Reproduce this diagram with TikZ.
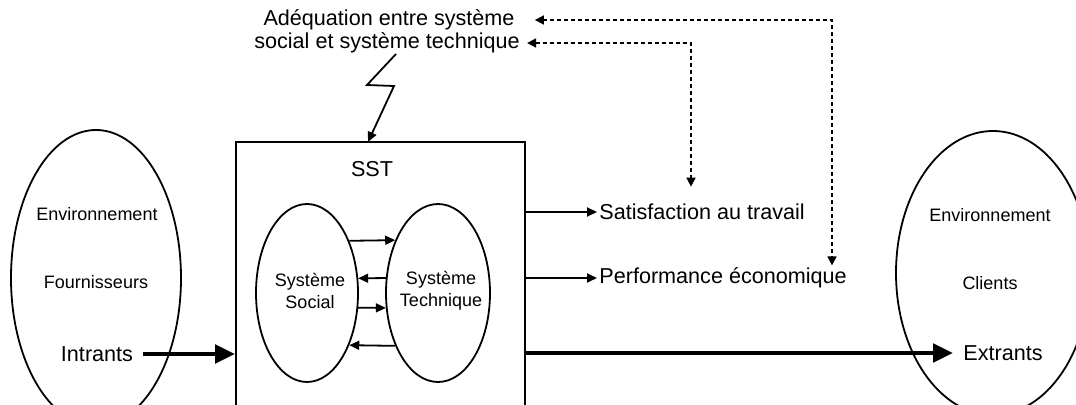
\documentclass[tikz,border=0pt]{standalone}
\usepackage{fontspec}
\setmainfont{Liberation Sans}
\usetikzlibrary{arrows.meta,shapes.geometric}

\begin{document}
\begin{tikzpicture}[
    x=0.5pt, y=-0.5pt,
    % === STYLES ===
    label text/.style={font=\fontsize{10.8}{13}\selectfont, inner sep=1pt},
    small text/.style={font=\fontsize{9}{11}\selectfont, inner sep=1pt},
    env ellipse/.style={draw, ellipse, line width=0.9pt, inner sep=0pt},
    sub ellipse/.style={draw, ellipse, line width=0.9pt, inner sep=0pt, minimum width=51pt, minimum height=89pt},
    thin arrow/.style={line width=0.9pt, -{Triangle[length=5pt,width=4.5pt]}},
    thick arrow/.style={line width=2.4pt, -{Triangle[length=10pt,width=9pt]}},
    link arrow/.style={line width=0.8pt, dash pattern=on 2pt off 1.5pt,
        {Triangle[length=4.5pt,width=4.5pt]}-{Triangle[length=4.5pt,width=4.5pt]}},
]
    % === CADRE ===
    \useasboundingbox (0,0) rectangle (1076,405);
    \clip (0,0) rectangle (1076,405);

    % === ENVIRONNEMENTS ===
    \node[env ellipse, minimum width=85pt, minimum height=148pt] (fourn) at (96,278) {};
    \node[env ellipse, minimum width=97pt, minimum height=142pt] (clien) at (993,273) {};

    \node[small text] (envA) at (97,214) {Environnement};
    \node[small text] (fournlab) at (96,282) {Fournisseurs};
    \node[label text] (intr) at (97,354) {Intrants};

    \node[small text] (envB) at (990,215) {Environnement};
    \node[small text] (clilab) at (990,283) {Clients};
    \node[label text, anchor=west] (extr) at (961,353) {Extrants};

    % === SYSTEME SOCIOTECHNIQUE ===
    \node[draw, line width=0.9pt, minimum width=144.5pt, minimum height=150pt, inner sep=0pt] (sst) at (380.5,292) {};
    \node[label text] (ssttitle) at (372,169) {SST};

    \node[sub ellipse] (soc) at (307,293) {};
    \node[sub ellipse, minimum width=52pt] (tec) at (438,293) {};
    \node[small text, align=center] (soclab) at (310,291) {Système\\Social};
    \node[small text, align=center] (teclab) at (441,291) {Système\\Technique};

    % === ECHANGES ===
    \draw[thin arrow] (soc.51) -- (tec.129);
    \draw[thin arrow] (tec.164) -- (soc.16);
    \draw[thin arrow] (soc.-16) -- (tec.196);
    \draw[thin arrow] (tec.231) -- (soc.-51);

    % === RESULTATS ===
    \node[label text, anchor=west] (sat) at (597,212) {Satisfaction au travail};
    \node[label text, anchor=west] (perf) at (597,278) {Performance économique};

    \draw[thin arrow] (sst.east |- sat.west) -- (sat.west);
    \draw[thin arrow] (sst.east |- perf.west) -- (perf.west);
    \draw[thick arrow] (sst.east |- extr.west) -- ([xshift=-4pt]extr.west);
    \draw[thick arrow] ([xshift=4pt]intr.east) -- (sst.west |- intr.east);

    % === ADEQUATION ===
    \node[label text] (adeqA) at (389,20) {Adéquation entre système};
    \node[label text] (adeqB) at (387,43) {social et système technique};

    \coordinate (cA) at (832,20);
    \coordinate (cB) at (691,43);
    \draw[link arrow] ([xshift=9pt]adeqA.east) -- (cA) -- (cA |- perf.north);
    \draw[link arrow] ([xshift=2.5pt]adeqB.east) -- (cB) -- ([yshift=7.5pt]cB |- sat.north);

    % eclair vers le SST
    \coordinate (zA) at (396,54);
    \coordinate (zB) at (368,142);
    \draw[thin arrow] (zA) -- (367,85) -- (394,86) -- (zB);

\end{tikzpicture}
\end{document}
